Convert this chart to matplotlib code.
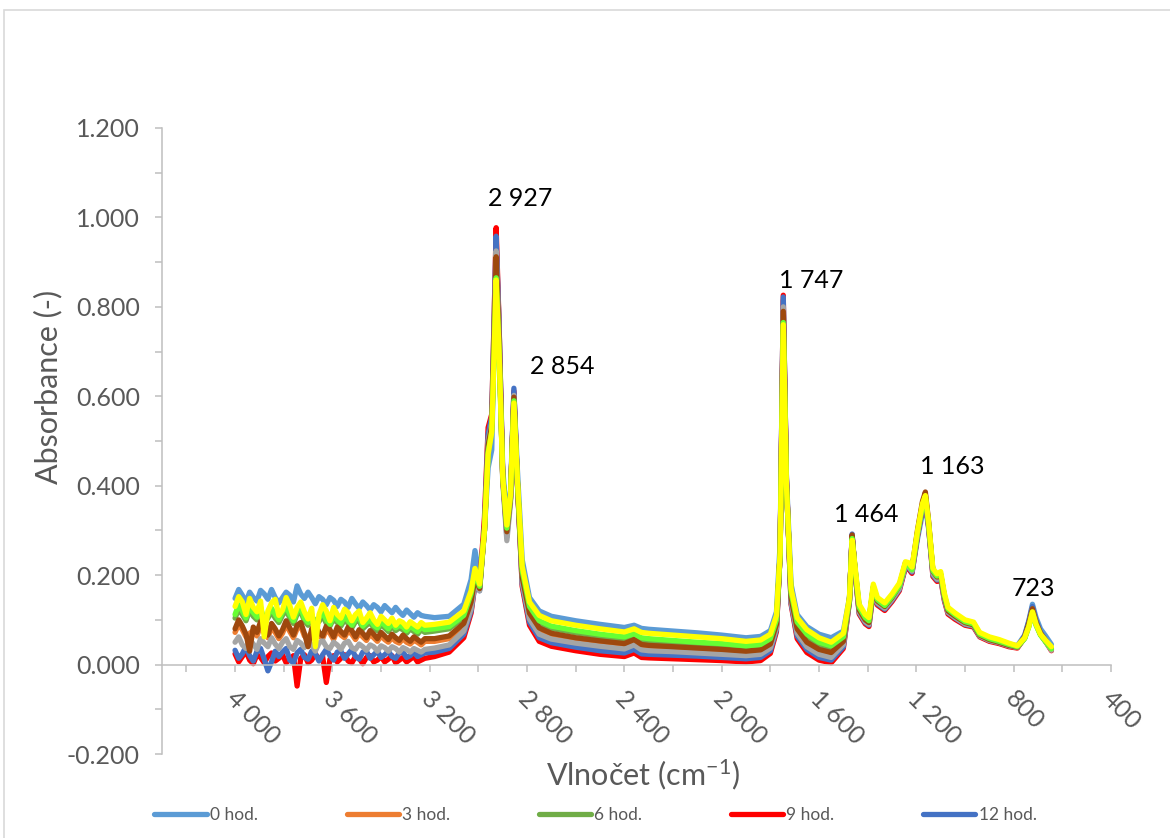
import matplotlib
matplotlib.use('Agg')
import matplotlib.pyplot as plt
import matplotlib.transforms as mtransforms
from matplotlib.patches import Rectangle
from matplotlib.ticker import FixedLocator, FuncFormatter, MultipleLocator

plt.rcParams['font.family'] = ['Lato', 'DejaVu Sans']
plt.rcParams['mathtext.default'] = 'regular'

# wavenumber grid (cm-1), shared by all spectra; dense in the noisy 4000-3220 part
wn = [4000, 3985, 3970, 3955, 3940, 3925, 3910, 3895, 3880, 3865,
      3850, 3835, 3820, 3805, 3790, 3775, 3760, 3745, 3730, 3715,
      3700, 3685, 3670, 3655, 3640, 3625, 3610, 3595, 3580, 3565,
      3550, 3535, 3520, 3505, 3490, 3475, 3460, 3445, 3430, 3415,
      3400, 3385, 3370, 3355, 3340, 3325, 3310, 3295, 3280, 3265,
      3250, 3235, 3220,
      3180, 3120, 3060, 3030, 3014, 2995, 2975, 2960, 2945, 2935, 2927, 2915, 2900, 2883,
      2868, 2854, 2840, 2820, 2790, 2750, 2700, 2600, 2500, 2400, 2360, 2330, 2300, 2200,
      2100, 2000, 1900, 1840, 1800, 1775, 1760, 1747, 1734, 1715, 1690, 1650, 1600, 1550,
      1500, 1475, 1464, 1452, 1435, 1410, 1395, 1377, 1360, 1330, 1300, 1270, 1245, 1232,
      1218, 1195, 1175, 1163, 1150, 1132, 1115, 1100, 1085, 1070, 1040, 1000, 965, 940,
      900, 860, 820, 785, 755, 738, 723, 708, 690, 670, 645]

a_0h = [0.148, 0.168, 0.155, 0.140, 0.162, 0.150, 0.142, 0.166, 0.158, 0.146,
        0.168, 0.150, 0.138, 0.150, 0.162, 0.155, 0.140, 0.176, 0.158, 0.148,
        0.162, 0.150, 0.136, 0.152, 0.146, 0.134, 0.150, 0.144, 0.130, 0.146,
        0.140, 0.128, 0.148, 0.136, 0.126, 0.140, 0.132, 0.122, 0.134, 0.128,
        0.118, 0.132, 0.124, 0.116, 0.128, 0.118, 0.110, 0.122, 0.114, 0.106,
        0.116, 0.110, 0.108,
        0.105, 0.108, 0.135, 0.190, 0.255, 0.200, 0.300, 0.440, 0.480, 0.740, 0.945, 0.760, 0.440, 0.320,
        0.390, 0.608, 0.440, 0.235, 0.150, 0.120, 0.108, 0.098, 0.090, 0.083, 0.088, 0.081, 0.079, 0.075,
        0.071, 0.066, 0.060, 0.063, 0.076, 0.118, 0.270, 0.815, 0.420, 0.180, 0.112, 0.085, 0.068, 0.060,
        0.075, 0.150, 0.285, 0.215, 0.130, 0.108, 0.100, 0.172, 0.145, 0.132, 0.150, 0.172, 0.218, 0.215,
        0.205, 0.282, 0.338, 0.355, 0.305, 0.205, 0.195, 0.200, 0.155, 0.125, 0.112, 0.098, 0.093, 0.070,
        0.060, 0.054, 0.046, 0.042, 0.066, 0.098, 0.135, 0.105, 0.080, 0.065, 0.045]

a_3h = [0.072, 0.090, 0.078, 0.062, 0.070, 0.076, 0.064, 0.088, 0.070, 0.060,
        0.084, 0.072, 0.058, 0.070, 0.090, 0.074, 0.060, 0.080, 0.086, 0.064,
        0.062, 0.072, 0.082, 0.066, 0.058, 0.078, 0.070, 0.056, 0.076, 0.066,
        0.060, 0.076, 0.068, 0.056, 0.070, 0.062, 0.054, 0.068, 0.060, 0.052,
        0.064, 0.056, 0.050, 0.060, 0.052, 0.048, 0.058, 0.050, 0.046, 0.054,
        0.050, 0.044, 0.052,
        0.052, 0.058, 0.086, 0.135, 0.190, 0.168, 0.300, 0.495, 0.538, 0.745, 0.918, 0.735, 0.415, 0.292,
        0.368, 0.600, 0.408, 0.190, 0.110, 0.076, 0.064, 0.054, 0.047, 0.042, 0.050, 0.040, 0.038, 0.035,
        0.032, 0.029, 0.026, 0.029, 0.042, 0.087, 0.245, 0.795, 0.405, 0.147, 0.076, 0.046, 0.030, 0.023,
        0.050, 0.143, 0.287, 0.209, 0.119, 0.097, 0.091, 0.169, 0.139, 0.127, 0.147, 0.172, 0.224, 0.221,
        0.211, 0.297, 0.360, 0.380, 0.318, 0.205, 0.193, 0.198, 0.150, 0.118, 0.106, 0.092, 0.088, 0.065,
        0.055, 0.049, 0.042, 0.038, 0.061, 0.091, 0.124, 0.093, 0.069, 0.054, 0.034]

a_6h = [0.104, 0.124, 0.112, 0.098, 0.122, 0.108, 0.100, 0.120, 0.092, 0.104,
        0.118, 0.104, 0.094, 0.110, 0.122, 0.104, 0.092, 0.112, 0.118, 0.098,
        0.088, 0.106, 0.098, 0.096, 0.110, 0.092, 0.086, 0.102, 0.094, 0.086,
        0.100, 0.092, 0.082, 0.096, 0.098, 0.080, 0.088, 0.094, 0.082, 0.076,
        0.090, 0.082, 0.074, 0.086, 0.076, 0.082, 0.078, 0.070, 0.080, 0.074,
        0.068, 0.078, 0.072,
        0.075, 0.080, 0.105, 0.152, 0.200, 0.172, 0.300, 0.485, 0.528, 0.720, 0.905, 0.715, 0.422, 0.302,
        0.375, 0.594, 0.412, 0.205, 0.125, 0.093, 0.081, 0.071, 0.063, 0.057, 0.065, 0.055, 0.053, 0.049,
        0.045, 0.042, 0.037, 0.040, 0.053, 0.096, 0.245, 0.785, 0.402, 0.158, 0.090, 0.062, 0.045, 0.037,
        0.058, 0.144, 0.284, 0.213, 0.125, 0.103, 0.096, 0.173, 0.143, 0.130, 0.150, 0.174, 0.224, 0.221,
        0.211, 0.296, 0.357, 0.376, 0.316, 0.208, 0.196, 0.201, 0.153, 0.122, 0.109, 0.095, 0.090, 0.067,
        0.057, 0.051, 0.044, 0.039, 0.059, 0.086, 0.119, 0.089, 0.067, 0.052, 0.034]

a_9h = [0.024, 0.006, 0.018, 0.030, 0.010, 0.002, 0.022, 0.016, 0.004, 0.018,
        0.026, 0.008, 0.014, 0.022, 0.004, 0.012, 0.020, -0.048, 0.014, 0.022,
        0.004, 0.010, 0.024, 0.012, 0.018, -0.040, 0.012, 0.020, 0.006, 0.014,
        0.022, 0.008, 0.004, 0.018, 0.014, 0.002, 0.016, 0.020, 0.006, 0.010,
        0.018, 0.006, 0.012, 0.020, 0.004, 0.010, 0.016, 0.006, 0.012, 0.018,
        0.006, 0.010, 0.014,
        0.018, 0.028, 0.060, 0.115, 0.180, 0.175, 0.330, 0.530, 0.560, 0.785, 0.977, 0.765, 0.425, 0.292,
        0.372, 0.612, 0.412, 0.175, 0.088, 0.052, 0.041, 0.031, 0.023, 0.018, 0.026, 0.016, 0.015, 0.013,
        0.011, 0.009, 0.006, 0.009, 0.025, 0.074, 0.250, 0.826, 0.418, 0.135, 0.058, 0.027, 0.010, 0.004,
        0.036, 0.140, 0.290, 0.206, 0.113, 0.091, 0.085, 0.163, 0.133, 0.121, 0.141, 0.165, 0.217, 0.214,
        0.204, 0.289, 0.350, 0.369, 0.309, 0.197, 0.186, 0.191, 0.143, 0.113, 0.101, 0.088, 0.084, 0.062,
        0.052, 0.047, 0.040, 0.037, 0.060, 0.092, 0.126, 0.094, 0.069, 0.053, 0.031]

a_12h = [0.032, 0.014, 0.024, 0.040, 0.020, 0.008, 0.030, 0.036, 0.012, -0.014,
         0.006, 0.030, 0.018, 0.028, 0.036, 0.010, 0.004, 0.026, 0.034, 0.016,
         0.012, 0.030, 0.024, 0.008, 0.022, 0.034, 0.020, 0.010, 0.028, 0.030,
         0.014, 0.024, 0.034, 0.018, 0.012, 0.028, 0.030, 0.014, 0.022, 0.030,
         0.016, 0.022, 0.030, 0.018, 0.014, 0.026, 0.028, 0.016, 0.020, 0.028,
         0.018, 0.022, 0.026,
         0.028, 0.036, 0.068, 0.120, 0.180, 0.165, 0.310, 0.515, 0.555, 0.775, 0.958, 0.760, 0.420, 0.285,
         0.370, 0.618, 0.415, 0.180, 0.095, 0.060, 0.049, 0.039, 0.031, 0.026, 0.034, 0.024, 0.023, 0.021,
         0.019, 0.016, 0.013, 0.016, 0.031, 0.078, 0.250, 0.822, 0.415, 0.138, 0.064, 0.034, 0.016, 0.010,
         0.040, 0.142, 0.292, 0.208, 0.116, 0.094, 0.088, 0.166, 0.136, 0.124, 0.144, 0.168, 0.220, 0.217,
         0.207, 0.292, 0.353, 0.372, 0.312, 0.200, 0.189, 0.194, 0.146, 0.116, 0.104, 0.090, 0.086, 0.064,
         0.054, 0.049, 0.042, 0.039, 0.064, 0.096, 0.130, 0.098, 0.072, 0.056, 0.034]

a_gray = [0.050, 0.062, 0.044, 0.036, 0.056, 0.046, 0.034, 0.058, 0.048, 0.040,
          0.060, 0.046, 0.036, 0.050, 0.058, 0.040, 0.034, 0.054, 0.048, 0.038,
          0.052, 0.044, 0.030, 0.048, 0.054, 0.040, 0.036, 0.050, 0.044, 0.034,
          0.048, 0.052, 0.038, 0.034, 0.046, 0.040, 0.032, 0.044, 0.040, 0.030,
          0.042, 0.038, 0.030, 0.040, 0.036, 0.028, 0.038, 0.034, 0.028, 0.036,
          0.032, 0.028, 0.034,
          0.037, 0.044, 0.075, 0.125, 0.185, 0.165, 0.300, 0.500, 0.540, 0.750, 0.925, 0.740, 0.410, 0.277,
          0.360, 0.602, 0.405, 0.185, 0.102, 0.068, 0.057, 0.048, 0.041, 0.035, 0.044, 0.033, 0.031, 0.029,
          0.026, 0.023, 0.020, 0.023, 0.037, 0.082, 0.245, 0.800, 0.408, 0.142, 0.070, 0.040, 0.023, 0.016,
          0.045, 0.142, 0.288, 0.208, 0.118, 0.096, 0.090, 0.168, 0.138, 0.126, 0.146, 0.170, 0.222, 0.219,
          0.209, 0.294, 0.356, 0.375, 0.314, 0.203, 0.191, 0.196, 0.148, 0.117, 0.105, 0.091, 0.087, 0.064,
          0.054, 0.049, 0.042, 0.038, 0.060, 0.090, 0.124, 0.092, 0.068, 0.052, 0.032]

a_brown = [0.080, 0.100, 0.086, 0.068, 0.030, 0.084, 0.072, 0.096, 0.078, 0.066,
           0.092, 0.080, 0.064, 0.078, 0.098, 0.082, 0.066, 0.088, 0.094, 0.070,
           0.040, 0.080, 0.090, 0.072, 0.064, 0.086, 0.078, 0.062, 0.084, 0.074,
           0.066, 0.084, 0.076, 0.062, 0.078, 0.070, 0.060, 0.076, 0.068, 0.058,
           0.072, 0.064, 0.056, 0.068, 0.060, 0.054, 0.066, 0.058, 0.052, 0.062,
           0.056, 0.050, 0.058,
           0.058, 0.064, 0.092, 0.140, 0.195, 0.170, 0.300, 0.490, 0.535, 0.740, 0.912, 0.730, 0.420, 0.297,
           0.372, 0.598, 0.410, 0.195, 0.115, 0.082, 0.070, 0.060, 0.053, 0.047, 0.056, 0.045, 0.043, 0.040,
           0.037, 0.034, 0.030, 0.033, 0.046, 0.090, 0.245, 0.790, 0.405, 0.150, 0.080, 0.050, 0.034, 0.027,
           0.052, 0.145, 0.290, 0.212, 0.122, 0.100, 0.094, 0.172, 0.142, 0.130, 0.150, 0.176, 0.228, 0.225,
           0.215, 0.302, 0.365, 0.386, 0.322, 0.208, 0.196, 0.200, 0.152, 0.120, 0.108, 0.094, 0.089, 0.066,
           0.056, 0.050, 0.043, 0.039, 0.062, 0.092, 0.125, 0.094, 0.070, 0.055, 0.036]

a_lime = [0.112, 0.134, 0.120, 0.104, 0.130, 0.116, 0.106, 0.128, 0.098, 0.110,
          0.126, 0.112, 0.100, 0.118, 0.130, 0.112, 0.098, 0.120, 0.126, 0.104,
          0.094, 0.112, 0.088, 0.104, 0.118, 0.100, 0.090, 0.110, 0.100, 0.092,
          0.108, 0.098, 0.088, 0.102, 0.106, 0.086, 0.094, 0.100, 0.088, 0.082,
          0.096, 0.088, 0.080, 0.092, 0.082, 0.088, 0.084, 0.076, 0.086, 0.080,
          0.074, 0.084, 0.078,
          0.080, 0.085, 0.110, 0.158, 0.205, 0.175, 0.300, 0.475, 0.522, 0.700, 0.865, 0.700, 0.425, 0.305,
          0.378, 0.590, 0.415, 0.210, 0.130, 0.098, 0.086, 0.076, 0.068, 0.062, 0.069, 0.060, 0.058, 0.054,
          0.050, 0.047, 0.042, 0.045, 0.058, 0.100, 0.245, 0.765, 0.400, 0.162, 0.095, 0.068, 0.050, 0.042,
          0.062, 0.145, 0.282, 0.215, 0.128, 0.105, 0.098, 0.175, 0.145, 0.132, 0.152, 0.176, 0.225, 0.222,
          0.212, 0.295, 0.355, 0.374, 0.316, 0.210, 0.198, 0.203, 0.155, 0.124, 0.111, 0.096, 0.091, 0.068,
          0.058, 0.052, 0.045, 0.040, 0.058, 0.084, 0.117, 0.088, 0.066, 0.052, 0.035]

a_yellow = [0.130, 0.152, 0.140, 0.112, 0.148, 0.128, 0.118, 0.142, 0.062, 0.120,
            0.138, 0.146, 0.110, 0.122, 0.150, 0.132, 0.106, 0.128, 0.140, 0.118,
            0.102, 0.126, 0.040, 0.112, 0.134, 0.120, 0.098, 0.128, 0.112, 0.104,
            0.124, 0.116, 0.098, 0.112, 0.120, 0.094, 0.104, 0.116, 0.100, 0.090,
            0.108, 0.100, 0.092, 0.104, 0.088, 0.098, 0.094, 0.084, 0.096, 0.090,
            0.084, 0.094, 0.088,
            0.090, 0.095, 0.120, 0.165, 0.215, 0.180, 0.300, 0.470, 0.520, 0.700, 0.860, 0.700, 0.420, 0.312,
            0.380, 0.585, 0.420, 0.220, 0.140, 0.110, 0.098, 0.088, 0.080, 0.073, 0.080, 0.072, 0.070, 0.066,
            0.062, 0.058, 0.052, 0.055, 0.068, 0.110, 0.250, 0.760, 0.400, 0.170, 0.105, 0.078, 0.060, 0.050,
            0.070, 0.150, 0.278, 0.220, 0.135, 0.112, 0.105, 0.180, 0.150, 0.138, 0.158, 0.182, 0.230, 0.228,
            0.218, 0.300, 0.360, 0.378, 0.320, 0.215, 0.203, 0.208, 0.160, 0.128, 0.115, 0.100, 0.095, 0.072,
            0.062, 0.056, 0.048, 0.042, 0.060, 0.085, 0.118, 0.090, 0.068, 0.055, 0.040]

legend_labels = ['0 hod.', '3 hod.', '6 hod.', '9 hod.', '12 hod.']

peak_labels = ['2 927', '2 854', '1 747', '1 464', '1 163', '723']
peak_text_x = [2960, 2788, 1764, 1538, 1185, 807]
peak_text_y = [1.026, 0.650, 0.843, 0.319, 0.426, 0.153]

series = [
    (a_0h, '#5B9BD5', legend_labels[0]),
    (a_3h, '#ED7D31', legend_labels[1]),
    (a_6h, '#70AD47', legend_labels[2]),
    (a_9h, '#FF0000', legend_labels[3]),
    (a_12h, '#4472C4', legend_labels[4]),
    (a_gray, '#A5A5A5', '_nolegend_'),
    (a_brown, '#9E480E', '_nolegend_'),
    (a_lime, '#66FF33', '_nolegend_'),
    (a_yellow, '#FFFF00', '_nolegend_'),
]
for values, _, name in series:
    assert len(values) == len(wn), (name, len(values), len(wn))

AXIS_GREY = '#BFBFBF'
TEXT_GREY = '#595959'

fig = plt.figure(figsize=(11.7, 8.38), dpi=100)
ax = fig.add_axes([0.1385, 0.1002, 0.8111, 0.7471])

handles = []
for values, color, label in series:
    line, = ax.plot(wn, values, color=color, lw=3.8, label=label,
                    solid_joinstyle='round', solid_capstyle='round')
    if not label.startswith('_'):
        handles.append(line)

for txt, x, y in zip(peak_labels, peak_text_x, peak_text_y):
    ax.text(x, y, txt, fontsize=18, color='black', ha='left', va='baseline')

ax.set_xlim(4300, 400)
ax.set_ylim(-0.2, 1.2)

# axes styling, Excel-like
for side in ('top', 'right'):
    ax.spines[side].set_visible(False)
ax.spines['bottom'].set_position(('data', 0))
for side in ('left', 'bottom'):
    ax.spines[side].set_color(AXIS_GREY)
    ax.spines[side].set_linewidth(1.1)

ax.yaxis.set_major_locator(MultipleLocator(0.2))
ax.yaxis.set_minor_locator(MultipleLocator(0.1))
ax.yaxis.set_major_formatter(FuncFormatter(lambda v, p: f'{v:.3f}'))

ax.xaxis.set_major_locator(FixedLocator([4000, 3600, 3200, 2800, 2400, 2000, 1600, 1200, 800, 400]))
ax.xaxis.set_minor_locator(FixedLocator([4200, 3800, 3400, 3000, 2600, 2200, 1800, 1400, 1000, 600]))
ax.xaxis.set_major_formatter(FuncFormatter(lambda v, p: f'{int(v):,}'.replace(',', ' ')))

ax.tick_params(which='both', direction='out', length=5, width=1.1, color=AXIS_GREY)
ax.tick_params(axis='y', which='major', labelsize=18, labelcolor=TEXT_GREY, pad=11)
ax.tick_params(axis='x', which='major', labelsize=18, labelcolor=TEXT_GREY, pad=11)

offset = mtransforms.ScaledTranslation(-13 / 100, 0, fig.dpi_scale_trans)
for lbl in ax.get_xticklabels():
    lbl.set_rotation(-45)
    lbl.set_ha('left')
    lbl.set_va('top')
    lbl.set_transform(lbl.get_transform() + offset)

ax.set_ylabel('Absorbance (-)', fontsize=22, color=TEXT_GREY)
ax.yaxis.set_label_coords(-0.105, 0.586)
ax.set_xlabel('Vlnočet (cm$^{-1}$)', fontsize=22, color=TEXT_GREY)
ax.xaxis.set_label_coords(0.5065, -0.005)

fig.legend(handles=handles, labels=legend_labels, loc='center', ncol=5,
           bbox_to_anchor=(0.509, 0.0274), frameon=False, fontsize=12.5,
           handlelength=3.0, handletextpad=0.2, columnspacing=5.1,
           labelcolor=TEXT_GREY)

# chart-area border (cut off at right and bottom in the original)
fig.add_artist(Rectangle((4 / 1170, -0.1), 1.2, 1.088, transform=fig.transFigure,
                         fill=False, ec='#D9D9D9', lw=1.2))

fig.savefig('out.png', dpi=100)
